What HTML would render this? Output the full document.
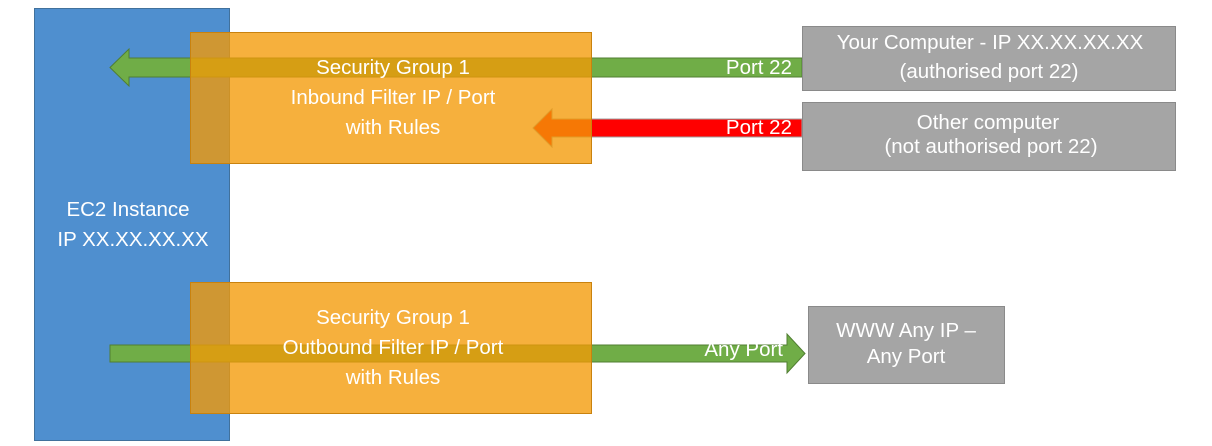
<!DOCTYPE html>
<html><head><meta charset="utf-8"><style>
html,body{margin:0;padding:0;background:#fff;}
svg{display:block;}
text{font-family:"Liberation Sans",sans-serif;fill:#fff;font-size:20.5px;}
</style></head><body>
<svg width="1212" height="446" viewBox="0 0 1212 446" xmlns="http://www.w3.org/2000/svg">
<rect x="34.5" y="8.5" width="195" height="432" fill="#4F8FCF" stroke="#41719C"/>
<polygon points="802,58 129,58 129,49 110,67.5 129,86 129,77 802,77" fill="#70AD47" stroke="#507E32" stroke-width="1"/>
<polygon points="802,119 552,119 552,109 533,128 552,147 552,137 802,137" fill="#FF0000" stroke="#A0A0A0" stroke-width="1"/>
<polygon points="110,345 787,345 787,334 805,353.5 787,373 787,362 110,362" fill="#70AD47" stroke="#507E32" stroke-width="1"/>
<rect x="190.5" y="32.5" width="401" height="131" fill="rgba(244,154,6,0.78)" stroke="#C9820E"/>
<rect x="190.5" y="282.5" width="401" height="131" fill="rgba(244,154,6,0.78)" stroke="#C9820E"/>
<rect x="802.5" y="26.5" width="373" height="64" fill="#A5A5A5" stroke="#8A8A8A"/>
<rect x="802.5" y="102.5" width="373" height="68" fill="#A5A5A5" stroke="#8A8A8A"/>
<rect x="808.5" y="306.5" width="196" height="77" fill="#A5A5A5" stroke="#8A8A8A"/>
<g text-anchor="middle">
<text x="128" y="216">EC2 Instance</text>
<text x="133" y="246">IP XX.XX.XX.XX</text>
<text x="393" y="74">Security Group 1</text>
<text x="393" y="104">Inbound Filter IP / Port</text>
<text x="393" y="134">with Rules</text>
<text x="393" y="324">Security Group 1</text>
<text x="393" y="354">Outbound Filter IP / Port</text>
<text x="393" y="384">with Rules</text>
<text x="990" y="49">Your Computer - IP XX.XX.XX.XX</text>
<text x="989" y="78">(authorised port 22)</text>
<text x="988" y="129">Other computer</text>
<text x="991" y="153">(not authorised port 22)</text>
<text x="906" y="337">WWW Any IP –</text>
<text x="906" y="363">Any Port</text>
</g>
<g text-anchor="end">
<text x="792" y="74">Port 22</text>
<text x="792" y="134">Port 22</text>
<text x="783" y="356">Any Port</text>
</g>
</svg>
</body></html>
